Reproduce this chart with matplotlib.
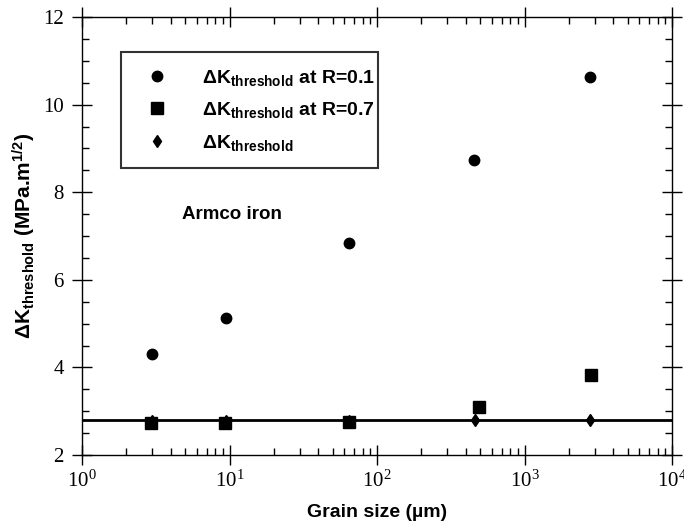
import numpy as np
import matplotlib
matplotlib.use('Agg')
import matplotlib.pyplot as plt
from matplotlib.ticker import LogLocator, LogFormatterMathtext, MultipleLocator, NullFormatter

# ---------------------------------------------------------------------------
# Data
# ---------------------------------------------------------------------------
grain_r01 = [3.0, 9.4, 65, 455, 2800]
dk_r01 = [4.31, 5.13, 6.84, 8.73, 10.63]

grain_r07 = [2.95, 9.3, 65, 490, 2830]
dk_r07 = [2.74, 2.74, 2.76, 3.10, 3.83]

grain_th = [3.0, 9.4, 65, 462, 2800]
dk_th = [2.77, 2.77, 2.78, 2.80, 2.80]

threshold_level = 2.8

# ---------------------------------------------------------------------------
# Fonts
# ---------------------------------------------------------------------------
plt.rcParams['font.family'] = ['Liberation Sans', 'DejaVu Sans']
plt.rcParams['font.weight'] = 'bold'
plt.rcParams['axes.labelweight'] = 'bold'
plt.rcParams['mathtext.fontset'] = 'custom'
plt.rcParams['mathtext.rm'] = 'Liberation Sans:bold'
plt.rcParams['mathtext.it'] = 'Liberation Sans:bold'
plt.rcParams['mathtext.bf'] = 'Liberation Sans:bold'

fig = plt.figure(figsize=(6.84, 5.24), dpi=100)
ax = fig.add_axes([82 / 684, 1 - 455 / 524, 590 / 684, 438 / 524])

ax.axhline(threshold_level, color='black', linewidth=2.0, zorder=2)

ax.plot(grain_r01, dk_r01, linestyle='none', marker='o', markersize=7.5,
        color='black', label=r'ΔK$_{threshold}$ at R=0.1', zorder=3)
ax.plot(grain_r07, dk_r07, linestyle='none', marker='s', markersize=8,
        color='black', label=r'ΔK$_{threshold}$ at R=0.7', zorder=4)
ax.plot(grain_th, dk_th, linestyle='none', marker='d', markersize=6,
        color='black', label=r'ΔK$_{threshold}$', zorder=3)

ax.set_xscale('log')
ax.set_xlim(1, 1e4)
ax.set_ylim(2, 12)

ax.xaxis.set_major_locator(LogLocator(base=10, numticks=10))
ax.xaxis.set_minor_locator(LogLocator(base=10, subs=np.arange(2, 10), numticks=50))
ax.xaxis.set_minor_formatter(NullFormatter())
ax.xaxis.set_major_formatter(LogFormatterMathtext())
ax.yaxis.set_major_locator(MultipleLocator(2))
ax.yaxis.set_minor_locator(MultipleLocator(0.5))

ax.tick_params(which='major', direction='inout', length=14, width=1,
               top=True, right=True, labelsize=15,
               labelfontfamily='Liberation Serif')
ax.tick_params(which='minor', direction='in', length=5, width=1,
               top=True, right=True)
ax.tick_params(axis='x', which='major', pad=4)
ax.tick_params(axis='y', which='major', pad=6)

for lbl in ax.get_xticklabels():
    lbl.set_math_fontfamily('stix')
    lbl.set_fontweight('normal')
for lbl in ax.get_yticklabels():
    lbl.set_fontweight('normal')

for sp in ax.spines.values():
    sp.set_linewidth(1.0)

ax.set_xlabel('Grain size (µm)', fontsize=14, labelpad=9)
ax.set_ylabel(r'ΔK$_{threshold}$ (MPa.m$^{1/2}$)', fontsize=15, labelpad=4)

ax.text(4.8, 7.48, 'Armco iron', fontsize=13.5, ha='left', va='center')

# legend box: fixed width (expand mode), top-left corner at the given point
leg_x0, leg_top, leg_w = 39 / 590, 403 / 438, 257 / 590
leg = ax.legend(loc='upper left', mode='expand',
                bbox_to_anchor=(leg_x0, leg_top - 0.01, leg_w, 0.01),
                fontsize=14, frameon=True, fancybox=False, borderpad=0.8,
                handlelength=2.1, handletextpad=1.25, labelspacing=0.65,
                borderaxespad=0, numpoints=1)
leg.get_frame().set_edgecolor('black')
leg.get_frame().set_linewidth(1.5)

fig.savefig('out.png', dpi=100)
